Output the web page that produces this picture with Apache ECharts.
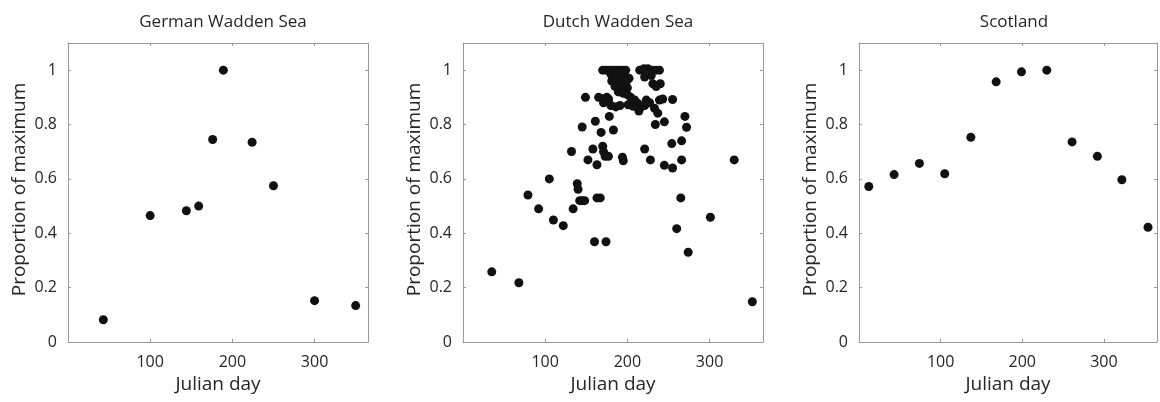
<!DOCTYPE html>
<html>
<head>
<meta charset="utf-8">
<script src="https://cdn.jsdelivr.net/npm/echarts@6/dist/echarts.min.js"></script>
<style>html,body{margin:0;padding:0;background:#fff}#c{width:1160px;height:402px}</style>
</head>
<body>
<div id="c"></div>
<script>
const panelTitles = ["German Wadden Sea", "Dutch Wadden Sea", "Scotland"];
const xAxisName = "Julian day";
const yAxisName = "Proportion of maximum";
const xTicks = [100, 200, 300];
const yTicks = [0, 0.2, 0.4, 0.6, 0.8, 1];

// [Julian day, proportion of maximum]
const germanData = [
  [43, 0.082], [100, 0.465], [144, 0.483], [159, 0.5], [176, 0.745],
  [189, 1.0], [224, 0.735], [250, 0.575], [300, 0.152], [350, 0.134]
];

const dutchData = [
  [35, 0.258], [68, 0.218], [79, 0.541], [92, 0.49], [105, 0.6], [110, 0.449],
  [122, 0.428], [132, 0.701], [134, 0.49], [139, 0.582], [140, 0.562],
  [142, 0.52], [145, 0.52], [148, 0.52], [145, 0.791], [149, 0.9], [152, 0.67],
  [158, 0.71], [160, 0.369], [161, 0.812], [163, 0.652], [163, 0.53], [167, 0.53],
  [165, 0.9], [168, 0.771], [170, 0.72], [171, 0.7], [173, 0.683], [177, 0.683],
  [174, 0.369], [177, 0.894], [178, 0.83], [171, 0.88], [183, 0.78],
  [194, 0.68], [195, 0.667], [221, 0.71], [228, 0.67], [245, 0.65], [254, 0.73],
  [255, 0.64], [255, 0.892], [245, 0.81], [234, 0.8], [237, 0.842], [266, 0.74],
  [266, 0.67], [265, 0.53], [260, 0.417], [270, 0.83], [272, 0.79], [274, 0.33],
  [301, 0.459], [330, 0.67], [352, 0.148],
  [170, 1.0], [174, 1.0], [178, 1.0], [182, 1.0], [186, 1.0], [190, 1.0], [194, 1.0], [198, 1.0],
  [215, 1.0], [220, 1.005], [225, 1.005], [230, 1.0], [235, 1.0], [239, 1.0],
  [180, 0.985], [188, 0.98], [196, 0.987], [202, 0.97], [181, 0.96], [191, 0.96],
  [199, 0.96], [185, 0.94], [193, 0.94], [200, 0.935], [189, 0.92], [195, 0.915], [200, 0.91],
  [221, 0.975], [231, 0.95], [235, 0.94], [240, 0.95], [229, 0.98],
  [204, 0.9], [209, 0.89], [213, 0.877], [217, 0.865], [214, 0.85], [221, 0.87],
  [223, 0.89], [227, 0.88], [233, 0.86], [239, 0.89], [243, 0.894],
  [201, 0.873], [207, 0.867], [171, 0.895], [175, 0.9], [177, 0.89], [180, 0.87],
  [186, 0.865], [191, 0.87]
];

const scotlandData = [
  [12, 0.572], [43, 0.616], [74, 0.657], [105, 0.619], [137, 0.753], [168, 0.957],
  [199, 0.994], [230, 1.0], [261, 0.736], [292, 0.683], [322, 0.597], [354, 0.422]
];

const allData = [germanData, dutchData, scotlandData];

const FONT = "Open Sans";
const TXT = "#262626";
const AX = "#9a9a9a";
const lefts = [68, 463, 859];
const W = 300, H = 299, TOP = 43;

const grids = [], xAxes = [], yAxes = [], series = [], titles = [];
lefts.forEach((l, i) => {
  grids.push({ left: l, top: TOP, width: W, height: H, containLabel: false });
  titles.push({
    text: panelTitles[i], left: l + W / 2, top: 9, textAlign: 'center',
    textStyle: { fontFamily: FONT, fontSize: 17, fontWeight: 'normal', color: TXT }
  });
  const lineStyle = { lineStyle: { color: AX, width: 1 } };
  xAxes.push({
    gridIndex: i, type: 'value', min: 0, max: 365, interval: 100, position: 'bottom',
    name: xAxisName, nameLocation: 'middle', nameGap: 33,
    nameTextStyle: { fontFamily: FONT, fontSize: 19, color: TXT },
    axisLine: { show: true, onZero: false, ...lineStyle },
    axisTick: { show: true, inside: true, length: 3, ...lineStyle },
    axisLabel: {
      fontFamily: FONT, fontSize: 16, color: TXT, margin: 12,
      formatter: v => xTicks.includes(v) ? String(v) : ''
    },
    splitLine: { show: false }
  });
  xAxes.push({
    gridIndex: i, type: 'value', min: 0, max: 365, interval: 100, position: 'top',
    axisLine: { show: true, onZero: false, ...lineStyle },
    axisTick: { show: true, inside: true, length: 3, ...lineStyle },
    axisLabel: { show: false }, splitLine: { show: false }
  });
  yAxes.push({
    gridIndex: i, type: 'value', min: 0, max: 1.1, interval: 0.2, position: 'left',
    name: yAxisName, nameLocation: 'middle', nameGap: 39,
    nameTextStyle: { fontFamily: FONT, fontSize: 19, color: TXT, padding: [0, 0, 0, 6] },
    axisLine: { show: true, onZero: false, ...lineStyle },
    axisTick: { show: true, inside: true, length: 3, ...lineStyle },
    axisLabel: {
      fontFamily: FONT, fontSize: 16, color: TXT, margin: 11,
      formatter: v => {
        const r = Math.round(v * 10) / 10;
        return yTicks.includes(r) ? String(r) : '';
      }
    },
    splitLine: { show: false }
  });
  yAxes.push({
    gridIndex: i, type: 'value', min: 0, max: 1.1, interval: 0.2, position: 'right',
    axisLine: { show: true, onZero: false, ...lineStyle },
    axisTick: { show: true, inside: true, length: 3, ...lineStyle },
    axisLabel: { show: false }, splitLine: { show: false }
  });
  series.push({
    type: 'scatter', xAxisIndex: i * 2, yAxisIndex: i * 2,
    data: allData[i], symbol: 'circle', symbolSize: 9,
    itemStyle: { color: '#111', opacity: 1 },
    silent: true, animation: false
  });
});

const chart = echarts.init(document.getElementById('c'), null, { renderer: 'canvas' });
chart.setOption({
  backgroundColor: '#fff', animation: false,
  title: titles, grid: grids, xAxis: xAxes, yAxis: yAxes, series: series
});
</script>
</body>
</html>
